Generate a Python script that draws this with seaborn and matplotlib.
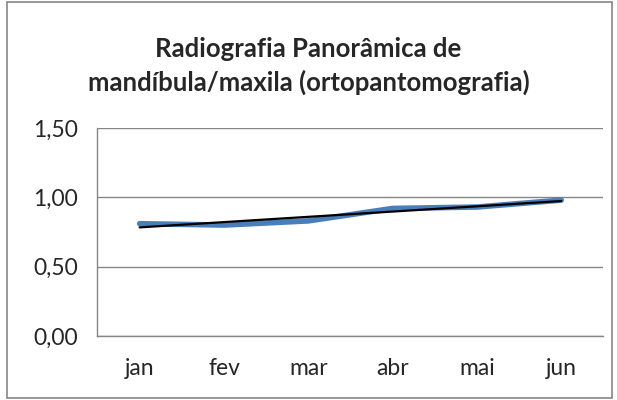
import numpy as np
import pandas as pd
import seaborn as sns
import matplotlib.pyplot as plt
from matplotlib.patches import Rectangle
from matplotlib.ticker import FuncFormatter

meses = ['jan', 'fev', 'mar', 'abr', 'mai', 'jun']
valores = [0.81, 0.80, 0.83, 0.92, 0.93, 0.98]
y_ticks = [0.0, 0.5, 1.0, 1.5]

df = pd.DataFrame({'pos': np.arange(len(meses)), 'mes': meses, 'valor': valores})

sns.set_style("white")
plt.rcParams['font.family'] = ['Lato', 'DejaVu Sans']

fig = plt.figure(figsize=(6.17, 4.0), dpi=100)
ax = fig.add_axes([0.158, 0.16, 0.82, 0.52])

# serie principal
sns.lineplot(data=df, x='pos', y='valor', ax=ax, color='#4A7EBB', linewidth=4,
             solid_capstyle='round', solid_joinstyle='round')

# linha de tendencia linear
coef = np.polyfit(df['pos'], df['valor'], 1)
df['tend'] = np.polyval(coef, df['pos'])
sns.lineplot(data=df, x='pos', y='tend', ax=ax, color='black', linewidth=1.6)

ax.set_xlim(-0.5, len(meses) - 0.5)
ax.set_ylim(0, 1.5)
ax.set_yticks(y_ticks)
ax.yaxis.set_major_formatter(FuncFormatter(lambda v, p: f'{v:.2f}'.replace('.', ',')))
ax.set_xticks(df['pos'])
ax.set_xticklabels(meses)
ax.set_xticks(np.arange(-0.5, len(meses), 1), minor=True)
ax.tick_params(axis='x', which='major', length=0, pad=16, labelsize=16.5)
ax.tick_params(axis='x', which='minor', length=8, color='#868686', width=1, direction='out')
ax.tick_params(axis='y', length=8, color='#868686', width=1, direction='out', labelsize=16.5, pad=6)
ax.set_xlabel('')
ax.set_ylabel('')

ax.grid(axis='y', color='#868686', linewidth=1)
ax.set_axisbelow(True)
for s in ['top', 'right']:
    ax.spines[s].set_visible(False)
for s in ['left', 'bottom']:
    ax.spines[s].set_color('#868686')
    ax.spines[s].set_linewidth(1)

fig.text(0.5, 0.835, 'Radiografia Panorâmica de\nmandíbula/maxila (ortopantomografia)',
         ha='center', va='center', fontsize=18.5, fontweight='bold', linespacing=1.4)

fig.patches.append(Rectangle((0.011, 0.006), 0.981, 0.988, transform=fig.transFigure,
                             fill=False, edgecolor='#868686', linewidth=1.2))

fig.savefig('out.png', dpi=100)
